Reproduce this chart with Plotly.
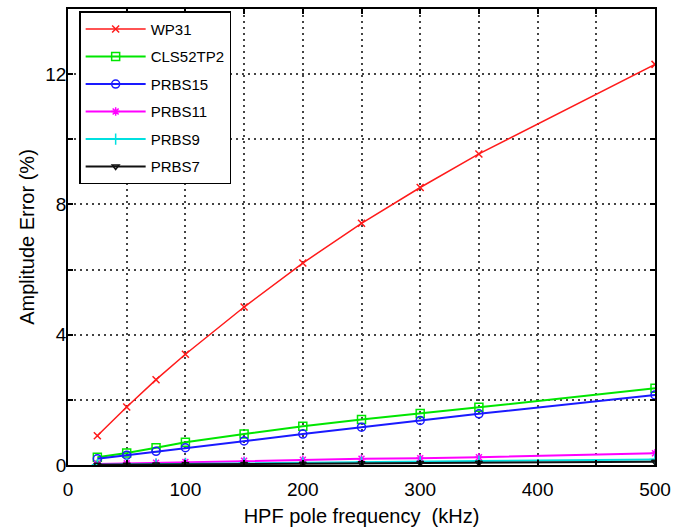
import plotly.graph_objects as go

freq_khz = [25, 50, 75, 100, 150, 200, 250, 300, 350, 500]
wp31 = [0.90, 1.78, 2.62, 3.40, 4.85, 6.20, 7.42, 8.52, 9.55, 12.30]
cls52tp2 = [0.24, 0.37, 0.53, 0.70, 0.95, 1.19, 1.40, 1.58, 1.77, 2.36]
prbs15 = [0.19, 0.30, 0.42, 0.53, 0.74, 0.95, 1.16, 1.37, 1.57, 2.15]
prbs11 = [0.03, 0.05, 0.07, 0.09, 0.13, 0.16, 0.19, 0.21, 0.24, 0.36]
prbs9 = [0.01, 0.02, 0.03, 0.04, 0.06, 0.07, 0.09, 0.10, 0.12, 0.17]
prbs7 = [0.005, 0.01, 0.015, 0.02, 0.03, 0.04, 0.05, 0.06, 0.07, 0.10]

x_tickvals = [0, 50, 100, 150, 200, 250, 300, 350, 400, 450, 500]
x_ticktext = ["0", "", "100", "", "200", "", "300", "", "400", "", "500"]
y_tickvals = [0, 2, 4, 6, 8, 10, 12, 14]
y_ticktext = ["0", "", "4", "", "8", "", "12", ""]

series = [
    ("WP31", wp31, "#ff1a1a", "x-thin-open", 7, 1.5),
    ("CLS52TP2", cls52tp2, "#00e600", "square-open", 8, 2),
    ("PRBS15", prbs15, "#1a1aff", "circle-open", 8, 2),
    ("PRBS11", prbs11, "#ff00ff", "asterisk-open", 7, 2),
    ("PRBS9", prbs9, "#00e0e0", "cross-thin-open", 8, 2),
    ("PRBS7", prbs7, "#111111", "triangle-down-open", 6, 2),
]

font_family = "Arial, Liberation Sans, sans-serif"

fig = go.Figure()
for i, (name, vals, color, sym, size, lw) in enumerate(series):
    fig.add_trace(go.Scatter(
        x=freq_khz, y=vals, name=name, mode="lines+markers",
        line=dict(color=color, width=lw),
        marker=dict(symbol=sym, size=size, color=color, line=dict(color=color, width=1.5)),
        legendgroup=f"g{i}",
    ))

axis_common = dict(
    showline=True, linecolor="black", linewidth=1.5, mirror="ticks",
    ticks="inside", ticklen=5, tickwidth=1.5, tickcolor="black",
    showgrid=True, gridcolor="#444444", gridwidth=1.5, griddash="2px,4px",
    zeroline=False, tickfont=dict(size=19, color="black", family=font_family),
)

fig.update_xaxes(
    range=[0, 500], tickmode="array", tickvals=x_tickvals, ticktext=x_ticktext,
    ticklabelstandoff=6,
    title=dict(text="HPF pole frequency  (kHz)", font=dict(size=20, color="black", family=font_family), standoff=10),
    **axis_common,
)
fig.update_yaxes(
    range=[0, 14], tickmode="array", tickvals=y_tickvals, ticktext=y_ticktext,
    ticklabelstandoff=-4,
    title=dict(text="Amplitude Error (%)", font=dict(size=20, color="black", family=font_family), standoff=5),
    **axis_common,
)

fig.update_layout(
    width=687, height=531,
    margin=dict(l=68, r=32, t=7, b=65),
    paper_bgcolor="white", plot_bgcolor="white",
    font=dict(family=font_family, color="black"),
    legend=dict(
        x=0.019, y=0.995, xanchor="left", yanchor="top",
        bgcolor="white", bordercolor="black", borderwidth=1.5,
        font=dict(size=15, color="black", family=font_family),
        tracegroupgap=5, entrywidth=95, itemwidth=60,
    ),
    showlegend=True,
)

fig.write_html("out.html", config={"displayModeBar": False},
               post_script="document.body.style.margin='0';")
